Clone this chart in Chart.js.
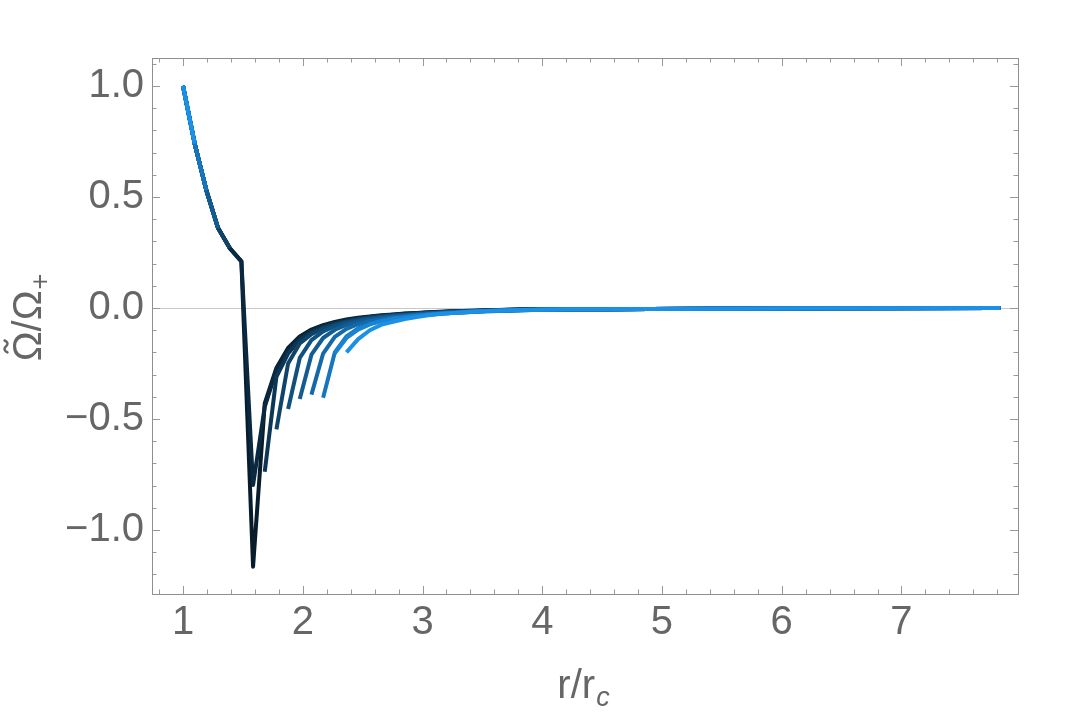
<!DOCTYPE html>
<html>
<head>
<meta charset="utf-8">
<script src="https://cdn.jsdelivr.net/npm/chart.js@4.4.1/dist/chart.umd.min.js"></script>
<style>
  html, body { margin: 0; padding: 0; background: #fff; }
</style>
</head>
<body>
<canvas id="chart" width="1080" height="713"></canvas>
<script>
// r/r_c sample points (shared by all curves)
const rGrid = [1.0, 1.0975, 1.195, 1.2925, 1.39, 1.4875, 1.585, 1.6825, 1.78, 1.8775,
  1.975, 2.0725, 2.17, 2.2675, 2.365, 2.4625, 2.56, 2.6575, 2.755, 2.8525,
  2.95, 3.0475, 3.145, 3.2425, 3.34, 3.4375, 3.535, 3.6325, 3.73, 3.8275, 3.925];

// inner branch, same for every curve
const leftOmega = [1.0, 0.74, 0.53, 0.36, 0.27, 0.21];

// last index of inner branch / first index of outer branch, darkest -> lightest
const leftEnd = [5, 5, 4, 4, 3, 3, 2, 2, 1, 1];
const rightStart = [6, 6, 7, 8, 9, 10, 11, 12, 13, 14];

// outer branches
const omega0 = [-1.165, -0.43, -0.27, -0.18, -0.128, -0.097, -0.077, -0.063, -0.052, -0.044, -0.038, -0.033, -0.029, -0.025, -0.022, -0.019, -0.017, -0.015, -0.013, -0.012, -0.010, -0.009, -0.008, -0.007, -0.006];
const omega1 = [-0.797, -0.445, -0.28, -0.19, -0.135, -0.102, -0.081, -0.066, -0.055, -0.046, -0.040, -0.035, -0.030, -0.026, -0.023, -0.020, -0.018, -0.016, -0.014, -0.012, -0.011, -0.009, -0.008, -0.007, -0.006];
const omega2 = [-0.737, -0.31, -0.205, -0.145, -0.11, -0.087, -0.071, -0.059, -0.049, -0.042, -0.036, -0.032, -0.028, -0.024, -0.021, -0.019, -0.016, -0.014, -0.013, -0.011, -0.010, -0.008, -0.007, -0.006];
const omega3 = [-0.547, -0.25, -0.16, -0.118, -0.092, -0.075, -0.062, -0.052, -0.044, -0.038, -0.033, -0.029, -0.026, -0.022, -0.020, -0.017, -0.015, -0.013, -0.012, -0.010, -0.009, -0.008, -0.007];
const omega4 = [-0.455, -0.225, -0.145, -0.105, -0.082, -0.067, -0.056, -0.047, -0.040, -0.035, -0.031, -0.027, -0.024, -0.021, -0.018, -0.016, -0.014, -0.012, -0.011, -0.010, -0.008, -0.007];
const omega5 = [-0.41, -0.21, -0.135, -0.098, -0.076, -0.062, -0.052, -0.044, -0.038, -0.033, -0.029, -0.025, -0.022, -0.019, -0.017, -0.015, -0.013, -0.012, -0.010, -0.009, -0.008];
const omega6 = [-0.39, -0.205, -0.13, -0.094, -0.073, -0.059, -0.049, -0.042, -0.036, -0.031, -0.027, -0.024, -0.021, -0.018, -0.016, -0.014, -0.012, -0.011, -0.010, -0.008];
const omega7 = [-0.404, -0.2, -0.128, -0.092, -0.071, -0.057, -0.047, -0.040, -0.034, -0.029, -0.026, -0.022, -0.020, -0.017, -0.015, -0.013, -0.012, -0.010, -0.009];
const omega8 = [-0.204, -0.135, -0.097, -0.074, -0.059, -0.048, -0.041, -0.035, -0.030, -0.026, -0.023, -0.020, -0.017, -0.015, -0.013, -0.011, -0.010, -0.009];
const omega9 = [-0.2, -0.14, -0.1, -0.075, -0.062, -0.05, -0.041, -0.033, -0.027, -0.023, -0.019, -0.016, -0.013, -0.011, -0.010, -0.009, -0.008];
const rightOmega = [omega0, omega1, omega2, omega3, omega4, omega5, omega6, omega7, omega8, omega9];

// far tail, all curves sit on zero
const tailR = [4.2175, 4.51, 4.9, 5.3875, 6.3625, 7.825];
const tailOmega = [-0.006, -0.005, -0.004, -0.003, -0.0015, 0];

const xTicks = [1, 2, 3, 4, 5, 6, 7];
const yTicks = [-1.0, -0.5, 0.0, 0.5, 1.0];

const dark = [8, 28, 44];
const light = [26, 144, 230];
const grey = "#666666";
const fontFamily = "'Liberation Sans', Arial, sans-serif";
const tickFont = { family: fontFamily, size: 40 };

function curveColor(k) {
  const t = k / 9;
  const c = dark.map((d, i) => Math.round(d + (light[i] - d) * t));
  return `rgb(${c[0]},${c[1]},${c[2]})`;
}

function buildCurve(k) {
  const pts = [];
  for (let i = 0; i <= leftEnd[k]; i++) pts.push({ x: rGrid[i], y: leftOmega[i] });
  if (rightStart[k] > leftEnd[k] + 1) pts.push({ x: rGrid[leftEnd[k] + 1], y: null });
  rightOmega[k].forEach((v, j) => pts.push({ x: rGrid[rightStart[k] + j], y: v }));
  tailR.forEach((r, j) => pts.push({ x: r, y: tailOmega[j] }));
  return pts;
}

const datasets = rightOmega.map((_, k) => ({
  data: buildCurve(k),
  borderColor: curveColor(k),
  borderWidth: 4,
  borderJoinStyle: "round",
  pointRadius: 0,
  tension: 0,
  spanGaps: false,
  order: 9 - k,
}));

// frame, inward ticks, zero axis and axis titles
const framePlugin = {
  id: "frame",
  beforeDatasetsDraw(chart) {
    const { ctx, chartArea: a, scales } = chart;
    const y0 = Math.round(scales.y.getPixelForValue(0)) + 0.5;
    ctx.save();
    ctx.strokeStyle = "#c8c8c8";
    ctx.lineWidth = 1;
    ctx.beginPath();
    ctx.moveTo(a.left, y0);
    ctx.lineTo(a.right, y0);
    ctx.stroke();
    ctx.restore();
  },
  afterDatasetsDraw(chart) {
    const { ctx, chartArea: a, scales } = chart;
    const { x, y } = scales;
    ctx.save();
    ctx.strokeStyle = "#999999";
    ctx.lineWidth = 1;
    ctx.beginPath();
    // x ticks, every 0.2
    for (let n = 4; n <= 39; n++) {
      const px = Math.round(x.getPixelForValue(n / 5)) + 0.5;
      const len = n % 5 === 0 ? 8 : 4.5;
      ctx.moveTo(px, a.bottom); ctx.lineTo(px, a.bottom - len);
      ctx.moveTo(px, a.top); ctx.lineTo(px, a.top + len);
    }
    // y ticks, every 0.1
    for (let n = -12; n <= 11; n++) {
      const py = Math.round(y.getPixelForValue(n / 10)) + 0.5;
      const len = n % 5 === 0 ? 8 : 4.5;
      ctx.moveTo(a.left, py); ctx.lineTo(a.left + len, py);
      ctx.moveTo(a.right, py); ctx.lineTo(a.right - len, py);
    }
    ctx.stroke();
    ctx.strokeStyle = "#8f8f8f";
    ctx.strokeRect(Math.round(a.left) + 0.5, Math.round(a.top) + 0.5,
      Math.round(a.right - a.left), Math.round(a.bottom - a.top));
    ctx.restore();
  },
  afterDraw(chart) {
    const { ctx, chartArea: a } = chart;
    ctx.save();
    ctx.fillStyle = grey;
    ctx.strokeStyle = grey;
    ctx.textBaseline = "alphabetic";
    // x title: r/r_c
    const cx = (a.left + a.right) / 2;
    ctx.font = `40px ${fontFamily}`;
    const main = "r/r";
    const w1 = ctx.measureText(main).width;
    ctx.font = `italic 27px ${fontFamily}`;
    const w2 = ctx.measureText("c").width;
    const startX = cx - (w1 + w2) / 2 - 2;
    ctx.font = `40px ${fontFamily}`;
    ctx.fillText(main, startX, 698);
    ctx.font = `italic 27px ${fontFamily}`;
    ctx.fillText("c", startX + w1 + 1, 706);
    // y title: Omega-tilde / Omega_+ (rotated)
    ctx.translate(41, (a.top + a.bottom) / 2 - 8);
    ctx.rotate(-Math.PI / 2);
    ctx.font = `40px ${fontFamily}`;
    const om = "\u03A9";
    const rest = "/\u03A9";
    const wOm = ctx.measureText(om).width;
    const wRest = ctx.measureText(rest).width;
    ctx.font = `27px ${fontFamily}`;
    const wPlus = ctx.measureText("+").width;
    const sx = -(wOm + wRest + wPlus) / 2;
    ctx.font = `40px ${fontFamily}`;
    ctx.fillText(om, sx, 0);
    ctx.fillText(rest, sx + wOm, 0);
    ctx.font = `27px ${fontFamily}`;
    ctx.fillText("+", sx + wOm + wRest + 1, 8);
    // tilde over the first Omega
    const tc = sx + wOm / 2;
    const ty = -35;
    ctx.lineWidth = 2.4;
    ctx.lineCap = "round";
    ctx.beginPath();
    ctx.moveTo(tc - 6, ty + 1.5);
    ctx.bezierCurveTo(tc - 3.5, ty - 3.5, tc - 1, ty - 1, tc, ty);
    ctx.bezierCurveTo(tc + 1, ty + 1, tc + 3.5, ty + 3.5, tc + 6, ty - 1.5);
    ctx.stroke();
    ctx.restore();
  },
};

new Chart(document.getElementById("chart"), {
  type: "line",
  data: { datasets },
  options: {
    responsive: false,
    animation: false,
    devicePixelRatio: 1,
    layout: { padding: { top: 58, right: 62, bottom: 0, left: 0 } },
    plugins: { legend: { display: false }, tooltip: { enabled: false } },
    scales: {
      x: {
        type: "linear",
        min: 0.741,
        max: 7.973,
        grid: { display: false, drawTicks: false },
        border: { display: false },
        afterFit: (s) => { s.height = 119; },
        afterBuildTicks: (s) => { s.ticks = xTicks.map((v) => ({ value: v })); },
        ticks: { font: tickFont, color: grey, padding: 5, maxRotation: 0,
          callback: (v) => String(v) },
      },
      y: {
        type: "linear",
        min: -1.288,
        max: 1.126,
        grid: { display: false, drawTicks: false },
        border: { display: false },
        afterFit: (s) => { s.width = 152; },
        afterBuildTicks: (s) => { s.ticks = yTicks.map((v) => ({ value: v })); },
        ticks: { font: tickFont, color: grey, padding: 8,
          callback: (v) => (v < 0 ? "\u2212" : "") + Math.abs(v).toFixed(1) },
      },
    },
  },
  plugins: [framePlugin],
});
</script>
</body>
</html>
